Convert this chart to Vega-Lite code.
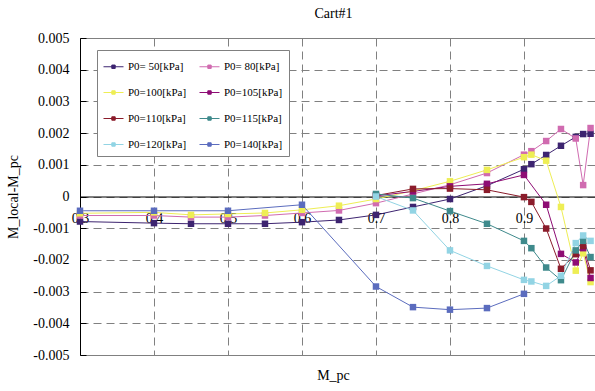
{
  "$schema": "https://vega.github.io/schema/vega-lite/v6.json",
  "width": 515,
  "height": 317,
  "autosize": {"type": "none"},
  "padding": {"left": 80, "top": 38, "right": 0, "bottom": 36},
  "title": {"text": "Cart#1", "font": "Liberation Serif", "fontSize": 14, "fontWeight": "normal", "color": "black", "offset": 10, "dx": -4},
  "config": {
    "view": {"stroke": "#808080", "strokeWidth": 1},
    "font": "Liberation Serif",
    "legend": {"labelFont": "Liberation Serif"}
  },
  "data": {
    "values": [
      {"P": "P0= 50[kPa]", "M": 0.3, "d": -0.00079},
      {"P": "P0= 50[kPa]", "M": 0.4, "d": -0.00084},
      {"P": "P0= 50[kPa]", "M": 0.45, "d": -0.00086},
      {"P": "P0= 50[kPa]", "M": 0.5, "d": -0.00086},
      {"P": "P0= 50[kPa]", "M": 0.55, "d": -0.00086},
      {"P": "P0= 50[kPa]", "M": 0.6, "d": -0.00081},
      {"P": "P0= 50[kPa]", "M": 0.65, "d": -0.00074},
      {"P": "P0= 50[kPa]", "M": 0.7, "d": -0.00058},
      {"P": "P0= 50[kPa]", "M": 0.75, "d": -0.00033},
      {"P": "P0= 50[kPa]", "M": 0.8, "d": -0.00008},
      {"P": "P0= 50[kPa]", "M": 0.85, "d": 0.00034},
      {"P": "P0= 50[kPa]", "M": 0.9, "d": 0.00086},
      {"P": "P0= 50[kPa]", "M": 0.91, "d": 0.00102},
      {"P": "P0= 50[kPa]", "M": 0.93, "d": 0.00131},
      {"P": "P0= 50[kPa]", "M": 0.95, "d": 0.0016},
      {"P": "P0= 50[kPa]", "M": 0.97, "d": 0.00188},
      {"P": "P0= 50[kPa]", "M": 0.98, "d": 0.00197},
      {"P": "P0= 50[kPa]", "M": 0.99, "d": 0.00198},

      {"P": "P0= 80[kPa]", "M": 0.3, "d": -0.0006},
      {"P": "P0= 80[kPa]", "M": 0.4, "d": -0.0006},
      {"P": "P0= 80[kPa]", "M": 0.45, "d": -0.00065},
      {"P": "P0= 80[kPa]", "M": 0.5, "d": -0.00065},
      {"P": "P0= 80[kPa]", "M": 0.55, "d": -0.0006},
      {"P": "P0= 80[kPa]", "M": 0.6, "d": -0.00052},
      {"P": "P0= 80[kPa]", "M": 0.65, "d": -0.00044},
      {"P": "P0= 80[kPa]", "M": 0.7, "d": -0.00021},
      {"P": "P0= 80[kPa]", "M": 0.75, "d": 0.00008},
      {"P": "P0= 80[kPa]", "M": 0.8, "d": 0.00037},
      {"P": "P0= 80[kPa]", "M": 0.85, "d": 0.00074},
      {"P": "P0= 80[kPa]", "M": 0.9, "d": 0.00132},
      {"P": "P0= 80[kPa]", "M": 0.91, "d": 0.00143},
      {"P": "P0= 80[kPa]", "M": 0.93, "d": 0.00175},
      {"P": "P0= 80[kPa]", "M": 0.95, "d": 0.00213},
      {"P": "P0= 80[kPa]", "M": 0.97, "d": 0.00183},
      {"P": "P0= 80[kPa]", "M": 0.98, "d": 0.00036},
      {"P": "P0= 80[kPa]", "M": 0.99, "d": 0.00216},

      {"P": "P0=100[kPa]", "M": 0.3, "d": -0.00053},
      {"P": "P0=100[kPa]", "M": 0.4, "d": -0.0005},
      {"P": "P0=100[kPa]", "M": 0.45, "d": -0.00058},
      {"P": "P0=100[kPa]", "M": 0.5, "d": -0.00055},
      {"P": "P0=100[kPa]", "M": 0.55, "d": -0.00052},
      {"P": "P0=100[kPa]", "M": 0.6, "d": -0.00042},
      {"P": "P0=100[kPa]", "M": 0.65, "d": -0.00029},
      {"P": "P0=100[kPa]", "M": 0.7, "d": -0.00008},
      {"P": "P0=100[kPa]", "M": 0.75, "d": 0.00018},
      {"P": "P0=100[kPa]", "M": 0.8, "d": 0.00048},
      {"P": "P0=100[kPa]", "M": 0.85, "d": 0.00084},
      {"P": "P0=100[kPa]", "M": 0.9, "d": 0.00124},
      {"P": "P0=100[kPa]", "M": 0.91, "d": 0.00132},
      {"P": "P0=100[kPa]", "M": 0.93, "d": 0.00113},
      {"P": "P0=100[kPa]", "M": 0.95, "d": -0.00033},
      {"P": "P0=100[kPa]", "M": 0.97, "d": -0.00234},
      {"P": "P0=100[kPa]", "M": 0.98, "d": -0.00179},
      {"P": "P0=100[kPa]", "M": 0.99, "d": -0.0027},

      {"P": "P0=105[kPa]", "M": 0.7, "d": 0.00002},
      {"P": "P0=105[kPa]", "M": 0.75, "d": 0.00016},
      {"P": "P0=105[kPa]", "M": 0.8, "d": 0.00032},
      {"P": "P0=105[kPa]", "M": 0.85, "d": 0.0004},
      {"P": "P0=105[kPa]", "M": 0.9, "d": 0.00068},
      {"P": "P0=105[kPa]", "M": 0.93, "d": -0.00026},
      {"P": "P0=105[kPa]", "M": 0.95, "d": -0.00181},
      {"P": "P0=105[kPa]", "M": 0.97, "d": -0.00208},
      {"P": "P0=105[kPa]", "M": 0.98, "d": -0.00163},
      {"P": "P0=105[kPa]", "M": 0.99, "d": -0.00257},

      {"P": "P0=110[kPa]", "M": 0.7, "d": 0.00003},
      {"P": "P0=110[kPa]", "M": 0.75, "d": 0.00024},
      {"P": "P0=110[kPa]", "M": 0.8, "d": 0.00025},
      {"P": "P0=110[kPa]", "M": 0.85, "d": 0.00021},
      {"P": "P0=110[kPa]", "M": 0.9, "d": -0.00002},
      {"P": "P0=110[kPa]", "M": 0.91, "d": -0.00017},
      {"P": "P0=110[kPa]", "M": 0.93, "d": -0.00101},
      {"P": "P0=110[kPa]", "M": 0.95, "d": -0.00228},
      {"P": "P0=110[kPa]", "M": 0.97, "d": -0.00182},
      {"P": "P0=110[kPa]", "M": 0.98, "d": -0.00156},
      {"P": "P0=110[kPa]", "M": 0.99, "d": -0.00233},

      {"P": "P0=115[kPa]", "M": 0.7, "d": 0.00008},
      {"P": "P0=115[kPa]", "M": 0.75, "d": -0.00005},
      {"P": "P0=115[kPa]", "M": 0.8, "d": -0.00046},
      {"P": "P0=115[kPa]", "M": 0.85, "d": -0.00086},
      {"P": "P0=115[kPa]", "M": 0.9, "d": -0.0014},
      {"P": "P0=115[kPa]", "M": 0.91, "d": -0.00163},
      {"P": "P0=115[kPa]", "M": 0.93, "d": -0.00224},
      {"P": "P0=115[kPa]", "M": 0.95, "d": -0.00264},
      {"P": "P0=115[kPa]", "M": 0.97, "d": -0.0017},
      {"P": "P0=115[kPa]", "M": 0.98, "d": -0.0014},
      {"P": "P0=115[kPa]", "M": 0.99, "d": -0.00191},

      {"P": "P0=120[kPa]", "M": 0.7, "d": 0.0},
      {"P": "P0=120[kPa]", "M": 0.75, "d": -0.00044},
      {"P": "P0=120[kPa]", "M": 0.8, "d": -0.0017},
      {"P": "P0=120[kPa]", "M": 0.85, "d": -0.00219},
      {"P": "P0=120[kPa]", "M": 0.9, "d": -0.00263},
      {"P": "P0=120[kPa]", "M": 0.91, "d": -0.00268},
      {"P": "P0=120[kPa]", "M": 0.93, "d": -0.00282},
      {"P": "P0=120[kPa]", "M": 0.95, "d": -0.0025},
      {"P": "P0=120[kPa]", "M": 0.97, "d": -0.00147},
      {"P": "P0=120[kPa]", "M": 0.98, "d": -0.00123},
      {"P": "P0=120[kPa]", "M": 0.99, "d": -0.0014},

      {"P": "P0=140[kPa]", "M": 0.3, "d": -0.00045},
      {"P": "P0=140[kPa]", "M": 0.4, "d": -0.00045},
      {"P": "P0=140[kPa]", "M": 0.5, "d": -0.00045},
      {"P": "P0=140[kPa]", "M": 0.6, "d": -0.00026},
      {"P": "P0=140[kPa]", "M": 0.7, "d": -0.00284},
      {"P": "P0=140[kPa]", "M": 0.75, "d": -0.00349},
      {"P": "P0=140[kPa]", "M": 0.8, "d": -0.00357},
      {"P": "P0=140[kPa]", "M": 0.85, "d": -0.00352},
      {"P": "P0=140[kPa]", "M": 0.9, "d": -0.00307}
    ]
  },
  "mark": {
    "type": "line",
    "strokeWidth": 1,
    "point": {"filled": true, "shape": "square", "size": 42, "opacity": 1}
  },
  "encoding": {
    "x": {
      "field": "M",
      "type": "quantitative",
      "scale": {"domain": [0.3, 0.996], "nice": false, "zero": false},
      "axis": {
        "orient": "bottom",
        "offset": -158.5,
        "values": [0.3, 0.4, 0.5, 0.6, 0.7, 0.8, 0.9],
        "format": ".1f",
        "domain": true,
        "domainColor": "black",
        "domainWidth": 1,
        "ticks": false,
        "labelFont": "Liberation Serif",
        "labelFontSize": 14,
        "labelColor": "black",
        "labelPadding": 15,
        "labelFlush": false,
        "grid": true,
        "gridColor": "#808080",
        "gridDash": [8, 5],
        "gridWidth": 1,
        "title": "M_pc",
        "titleFont": "Liberation Serif",
        "titleFontSize": 14,
        "titleFontWeight": "normal",
        "titleColor": "black",
        "titleBaseline": "middle",
        "titleX": 253,
        "titleY": 179
      }
    },
    "y": {
      "field": "d",
      "type": "quantitative",
      "scale": {"domain": [-0.005, 0.005], "nice": false, "zero": false},
      "axis": {
        "values": [-0.005, -0.004, -0.003, -0.002, -0.001, 0, 0.001, 0.002, 0.003, 0.004, 0.005],
        "labelExpr": "datum.value == 0 ? '0' : (datum.value < 0 ? '-' : '') + format(abs(datum.value), '.3f')",
        "domain": true,
        "domainColor": "black",
        "domainWidth": 1,
        "ticks": true,
        "tickSize": -6,
        "tickColor": "black",
        "labelFont": "Liberation Serif",
        "labelFontSize": 14,
        "labelColor": "black",
        "labelPadding": 17,
        "labelFlush": false,
        "grid": true,
        "gridColor": "#808080",
        "gridDash": [8, 5],
        "gridWidth": 1,
        "title": "M_local-M_pc",
        "titleFont": "Liberation Serif",
        "titleFontSize": 14,
        "titleFontWeight": "normal",
        "titleColor": "black",
        "titlePadding": 12
      }
    },
    "color": {
      "field": "P",
      "type": "nominal",
      "scale": {
        "domain": ["P0= 50[kPa]", "P0=100[kPa]", "P0=110[kPa]", "P0=120[kPa]", "P0= 80[kPa]", "P0=105[kPa]", "P0=115[kPa]", "P0=140[kPa]"],
        "range": ["#3d2470", "#eeee55", "#8b1c2b", "#92d4e4", "#d06bb0", "#8e0c74", "#3f8a8c", "#5b6cbe"]
      },
      "legend": {
        "title": null,
        "orient": "none",
        "legendX": 17,
        "legendY": 12,
        "columns": 2,
        "padding": 6,
        "rowPadding": 10,
        "columnPadding": 10,
        "fillColor": "white",
        "strokeColor": "#808080",
        "labelFont": "Liberation Serif",
        "labelFontSize": 11,
        "labelColor": "black",
        "labelOffset": 4,
        "symbolType": "M-1,0H1M-0.17,-0.17H0.17V0.17H-0.17Z",
        "symbolSize": 400,
        "symbolStrokeWidth": 1,
        "encode": {
          "symbols": {
            "update": {
              "fill": {"scale": "color", "field": "value"},
              "stroke": {"scale": "color", "field": "value"},
              "opacity": {"value": 1}
            }
          },
          "labels": {
            "update": {
              "font": {"value": "Liberation Serif"},
              "fontSize": {"value": 11},
              "fill": {"value": "black"}
            }
          }
        }
      }
    }
  }
}
